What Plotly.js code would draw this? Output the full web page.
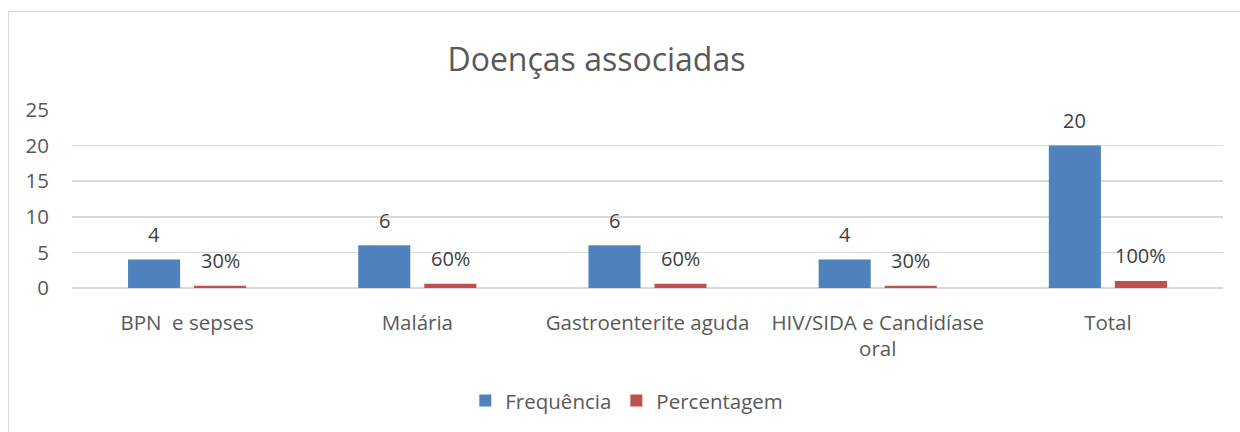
<!DOCTYPE html>
<html>
<head>
<meta charset="utf-8">
<script src="https://cdn.plot.ly/plotly-3.0.1.min.js"></script>
<style>
  html, body { margin: 0; padding: 0; background: #ffffff; }
  #chart { position: absolute; left: 0; top: 0; width: 1240px; height: 432px; }
  #frame { position: absolute; left: 8px; top: 11px; width: 1300px; height: 500px;
           border: 1px solid #d9d9d9; pointer-events: none; }
</style>
</head>
<body>
<div id="chart"></div>
<div id="frame"></div>
<script>
// ---- data ----
const categories = ["BPN  e sepses", "Malária", "Gastroenterite aguda", "HIV/SIDA e Candidíase oral", "Total"];
const tickLabels = ["BPN  e sepses", "Malária", "Gastroenterite aguda", "HIV/SIDA e Candidíase<br>oral", "Total"];
const frequencia = [4, 6, 6, 4, 20];
const percentagem = [0.3, 0.6, 0.6, 0.3, 1.0];
const percentLabels = ["30%", "60%", "60%", "30%", "100%"];
const seriesNames = ["Frequência", "Percentagem"];
const yTicks = [0, 5, 10, 15, 20, 25];

const FONT = "'Open Sans', sans-serif";
const GREY = "#595959";
const LABEL = "#404040";

const traces = [
  { type: "bar", name: seriesNames[0], x: categories, y: frequencia,
    marker: { color: "#4f81bd" }, hoverinfo: "skip" },
  { type: "bar", name: seriesNames[1], x: categories, y: percentagem,
    marker: { color: "#c0504d" }, hoverinfo: "skip" }
];

const annotations = [];
categories.forEach((c, i) => {
  annotations.push({ x: c, y: frequencia[i], xref: "x", yref: "y", text: String(frequencia[i]),
    showarrow: false, xshift: -33, yshift: 25, yanchor: "middle",
    font: { family: FONT, size: 20, color: LABEL } });
  annotations.push({ x: c, y: percentagem[i], xref: "x", yref: "y", text: percentLabels[i],
    showarrow: false, xshift: 33, yshift: 25, yanchor: "middle",
    font: { family: FONT, size: 20, color: LABEL } });
});

const layout = {
  width: 1240, height: 432,
  margin: { l: 72, r: 17, t: 110, b: 142 },
  paper_bgcolor: "rgba(0,0,0,0)", plot_bgcolor: "#ffffff",
  font: { family: FONT, size: 20.5, color: GREY },
  title: { text: "Doenças associadas", x: 0.481, xref: "container", xanchor: "center",
           y: 1 - 60 / 432, yref: "container", yanchor: "middle",
           font: { family: FONT, size: 32, color: GREY } },
  barmode: "group", bargap: 0.426, bargroupgap: 0.212,
  xaxis: { type: "category", tickvals: categories, ticktext: tickLabels,
           showgrid: false, zeroline: false, showline: false,
           ticks: "", ticklabelstandoff: 20,
           tickfont: { family: FONT, size: 20.5, color: GREY } },
  yaxis: { range: [0, 25], tickvals: yTicks, ticktext: yTicks.map(String),
           showgrid: true, gridcolor: "#d9d9d9", gridwidth: 1.5,
           zeroline: true, zerolinecolor: "#d9d9d9", zerolinewidth: 1.5,
           showline: false, ticks: "", ticklabelstandoff: 22,
           tickfont: { family: FONT, size: 20.5, color: GREY } },
  showlegend: true,
  legend: { orientation: "h", x: 0.482, xanchor: "center", y: (290 - 404) / 180, yanchor: "middle",
            font: { family: FONT, size: 20.5, color: GREY }, itemclick: false },
  annotations: annotations
};

Plotly.newPlot("chart", traces, layout, { displayModeBar: false, staticPlot: true });
</script>
</body>
</html>
